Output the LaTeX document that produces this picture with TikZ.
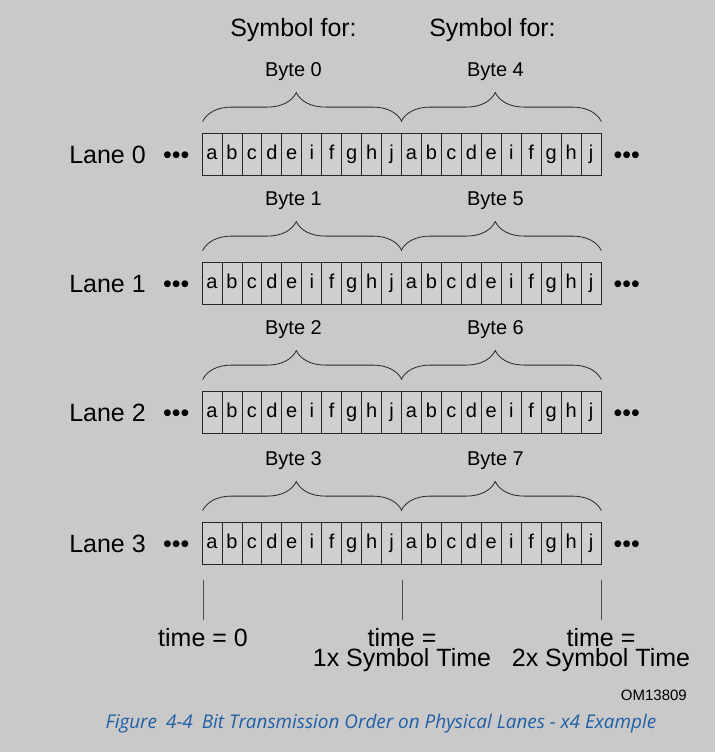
\documentclass[tikz,border=0pt]{standalone}
\usepackage{fontspec}
\setmainfont{Liberation Sans}
\newfontfamily\capfont{Open Sans}
\usetikzlibrary{positioning, calc, decorations.pathreplacing}
\definecolor{figgray}{RGB}{201, 201, 201}
\definecolor{capblue}{RGB}{31, 95, 165}

\begin{document}
\begin{tikzpicture}[x=1pt, y=-1pt,
  cell/.style={draw=black!85, fill=black!19, line width=0.8pt, minimum width=19.95pt, minimum height=42pt, inner sep=0pt, text height=14.5pt, text depth=4.5pt, font=\fontsize{20}{22}\selectfont},
  big/.style={inner sep=0pt, font=\fontsize{25}{20.5}\selectfont},
  lanetext/.style={big, text height=18pt, text depth=0pt},
  bytelbl/.style={inner sep=0pt, font=\fontsize{20}{22}\selectfont},
  bytebrace/.style={decorate, decoration={brace, amplitude=29pt, aspect=0.47}, draw=black!85, line width=0.8pt},
  tick/.style={draw=black!70, line width=1pt}]
  \fill[figgray] (0,0) rectangle (715,752);
  \node[big] (sym0) at (293.5,30) {Symbol for:};
  \node[big] (sym1) at (492.5,30) {Symbol for:};
  \foreach \r/\y in {0/154,1/283,2/412,3/543}{
    \pgfmathtruncatemacro\rb{\r+4}
    \foreach \l [count=\i] in {a,b,c,d,e,i,f,g,h,j,a,b,c,d,e,i,f,g,h,j}
      \node[cell] (c\r-\i) at ({202+19.95*(\i-0.5)},\y) {\l};
    \node[lanetext, left=12pt of c\r-1] (dl\r) {•••};
    \node[lanetext, right=12pt of c\r-20] (dr\r) {•••};
    \node[lanetext, left=17pt of dl\r] (lane\r) {Lane \r};
    \draw[bytebrace] ($(c\r-1.north west)+(1,-11)$) -- ($(c\r-10.north east)+(0,-11)$);
    \draw[bytebrace] ($(c\r-11.north west)+(0,-11)$) -- ($(c\r-20.north east)+(0,-11)$);
    \node[bytelbl] (byte\r) at (293.5,{\y-82}) {Byte \r};
    \node[bytelbl] (byte\rb) at (495.5,{\y-82}) {Byte \rb};
  }
  \coordinate (t0) at (203,580);
  \coordinate (t1) at (402,580);
  \coordinate (t2) at (601,580);
  \node[big, anchor=north, align=center] (time0) at (203,628) {time = 0};
  \node[big, anchor=north, align=center] (time1) at (402,628) {time =\\1x Symbol Time};
  \node[big, anchor=north, align=center] (time2) at (601,628) {time =\\2x Symbol Time};
  \foreach \k in {0,1,2}
    \draw[tick, shorten >=8pt] (t\k) -- (time\k.north);
  \node[anchor=east, inner sep=0pt, font=\fontsize{15}{15}\selectfont] (omid) at (687,695) {OM13809};
  \node[inner sep=0pt, text=capblue, font=\capfont\itshape\fontsize{18.9}{20}\selectfont] (caption) at (381,724) {Figure\hskip 9pt 4-4\hskip 9pt Bit Transmission Order on Physical Lanes - x4 Example};
\end{tikzpicture}
\end{document}
